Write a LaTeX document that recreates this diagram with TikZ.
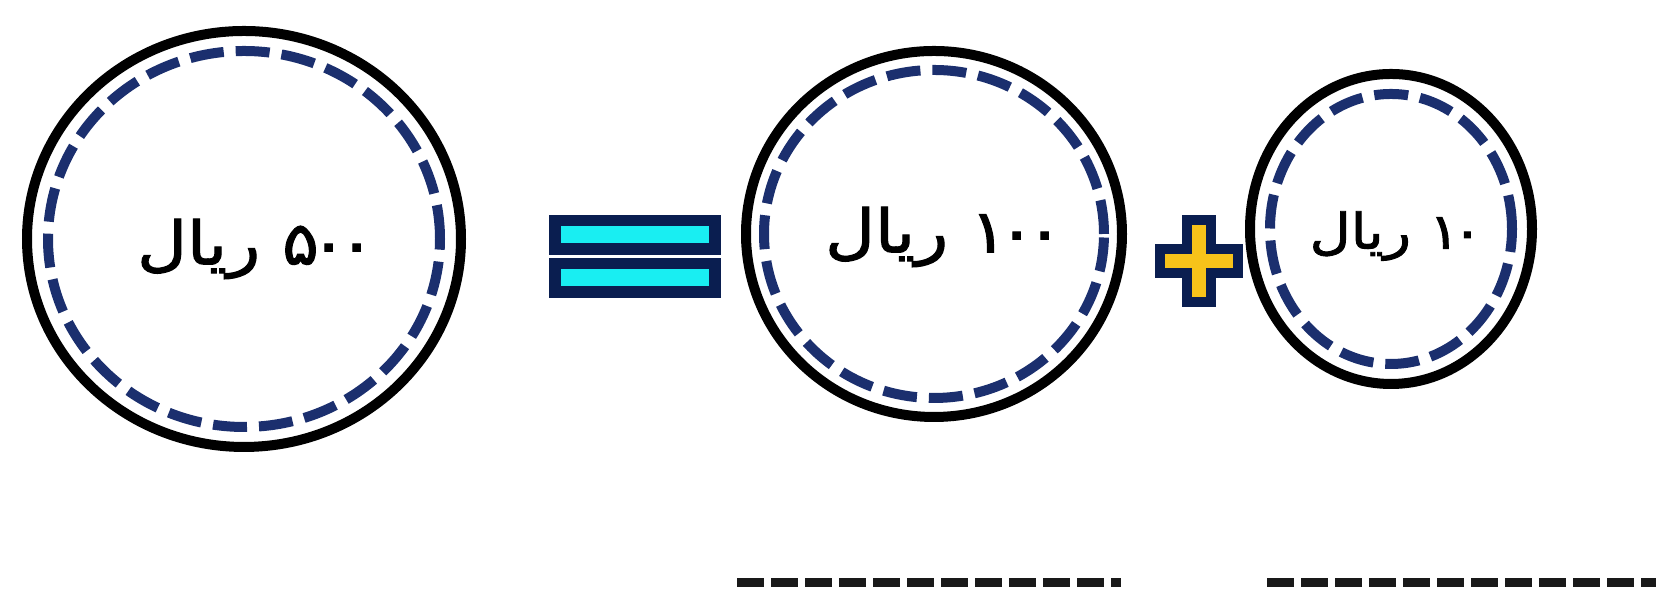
\documentclass[tikz,border=0pt]{standalone}
\usepackage{fontspec}
\newfontfamily\arabicfont[Script=Arabic, FakeStretch=1.15, FakeBold=1.8]{DejaVu Sans}
\TeXXeTstate=1
\usetikzlibrary{shapes.geometric}

\definecolor{coinnavy}{RGB}{27,47,110}
\definecolor{eqnavy}{RGB}{10,30,80}
\definecolor{eqcyan}{RGB}{25,238,242}
\definecolor{plusgold}{RGB}{247,195,26}

\begin{document}
\begin{tikzpicture}[
    coin/.style={ellipse, draw=black, line width=0.1cm, inner sep=0pt},
    coinlabel/.style={inner sep=0pt, font=\arabicfont\fontsize{17}{19}\selectfont},
    ring/.style={draw=coinnavy, line width=0.1cm, dash pattern=on 0.34cm off 0.12cm},
    eqbar/.style={rectangle, draw=eqnavy, line width=0.115cm, fill=eqcyan,
                  minimum width=1.6cm, minimum height=0.285cm, inner sep=0pt},
    plusmark/.style={draw=eqnavy, line width=0.1cm, fill=plusgold, line join=miter},
    blank/.style={draw=black!90, line width=0.09cm, dash pattern=on 0.27cm off 0.07cm}
]
    \useasboundingbox (0,0) rectangle (16.56,5.90);

    % --- Monedas ---
    \node[coin, minimum width=4.34cm, minimum height=4.16cm] (coin500) at (2.44,3.51) {};
    \node[coin, minimum width=3.76cm, minimum height=3.66cm] (coin100) at (9.34,3.56) {};
    \node[coin, minimum width=2.82cm, minimum height=3.10cm] (coin10)  at (13.91,3.61) {};

    % anillos punteados de cada moneda
    \draw[ring] (coin500.center) ellipse [x radius=1.96cm, y radius=1.88cm];
    \draw[ring] (coin100.center) ellipse [x radius=1.70cm, y radius=1.64cm];
    \draw[ring] (coin10.center)  ellipse [x radius=1.21cm, y radius=1.35cm];

    % valores
    \node[coinlabel] (lbl500) at ([shift={(0.12,-0.10)}]coin500.center)
        {\beginR\beginL ۵\kern-0.15em ۰\kern-0.15em ۰\endL{} ریال\endR};
    \node[coinlabel] (lbl100) at ([shift={(0.10,-0.03)}]coin100.center)
        {\beginR\beginL ۱\kern-0.15em ۰\kern-0.15em ۰\endL{} ریال\endR};
    \node[coinlabel, font=\arabicfont\fontsize{14}{16}\selectfont] (lbl10)
        at ([shift={(0.05,-0.07)}]coin10.center)
        {\beginR\beginL ۱\kern-0.15em ۰\endL{} ریال\endR};

    % --- Signo igual ---
    \node[eqbar] (eqtop) at (6.35,3.55) {};
    \node[eqbar] (eqbot) at (6.35,3.12) {};

    % --- Signo mas ---
    \coordinate (plus) at (11.985,3.285);
    \draw[plusmark] (plus) ++(-0.12,0.41) -- ++(0.24,0) -- ++(0,-0.29) -- ++(0.27,0)
        -- ++(0,-0.24) -- ++(-0.27,0) -- ++(0,-0.29) -- ++(-0.24,0) -- ++(0,0.29)
        -- ++(-0.27,0) -- ++(0,0.24) -- ++(0.27,0) -- cycle;

    % --- Lineas para la respuesta ---
    \coordinate (blankAl) at (7.37,0.07);
    \coordinate (blankAr) at (11.21,0.07);
    \coordinate (blankBl) at (12.67,0.07);
    \coordinate (blankBr) at (16.56,0.07);
    \draw[blank] (blankAl) -- (blankAr);
    \draw[blank] (blankBl) -- (blankBr);

\end{tikzpicture}
\end{document}
